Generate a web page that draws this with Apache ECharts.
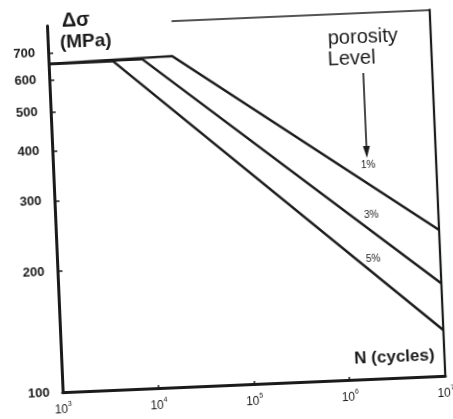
<!DOCTYPE html>
<html>
<head>
<meta charset="utf-8">
<script src="https://cdn.jsdelivr.net/npm/echarts@6/dist/echarts.min.js"></script>
<style>
  html, body { margin: 0; padding: 0; background: #fff; overflow: hidden; }
  /* the scanned figure is tilted a little, so the whole chart is tilted too */
  #chart { width: 453px; height: 419px; transform: rotate(-2.45deg); transform-origin: 50% 50%; }
</style>
</head>
<body>
<div id="chart"></div>
<script>
// stress range (MPa) vs cycles, one line per porosity level
const porosityLevels = ['1%', '3%', '5%']
const curve1 = [[1e3, 658], [1.95e4, 668], [1e7, 231]]
const curve3 = [[1e3, 658], [9.5e3, 661], [1e7, 170]]
const curve5 = [[1e3, 658], [4.7e3, 658], [1e7, 130]]
const yTicks = [100, 200, 300, 400, 500, 600, 700]
const xMin = 1e3
const xMax = 1e7
const yMin = 100
const yMax = 818

const ink = '#1b1b1b'
const font = 'Liberation Sans'

const chart = echarts.init(document.getElementById('chart'))

function lineSeries(name, data) {
  return {
    name,
    type: 'line',
    data,
    symbol: 'none',
    silent: true,
    lineStyle: { color: ink, width: 2.4 },
    z: 3
  }
}

const option = {
  backgroundColor: '#fff',
  animation: false,
  grid: { left: 55, right: 15, top: 18.5, bottom: 34 },
  xAxis: {
    type: 'log',
    min: xMin,
    max: xMax,
    axisLine: { show: true, lineStyle: { color: ink, width: 3 } },
    axisTick: { show: true, inside: true, length: 3, lineStyle: { color: ink, width: 1.5 } },
    splitLine: { show: false },
    axisLabel: {
      margin: 9,
      formatter: (v) => '{b|10}{s|' + Math.round(Math.log10(v)) + '}',
      rich: {
        b: { fontFamily: font, fontSize: 12, color: ink },
        s: { fontFamily: font, fontSize: 7, color: ink, padding: [0, 0, 10, 0] }
      }
    }
  },
  yAxis: [
    {
      type: 'log',
      min: yMin,
      max: yMax,
      axisLine: { show: true, lineStyle: { color: ink, width: 3 } },
      axisTick: { show: true, inside: true, length: 5, customValues: yTicks.slice(1), lineStyle: { color: ink, width: 1.5 } },
      splitLine: { show: false },
      axisLabel: {
        margin: 13,
        customValues: yTicks,
        fontFamily: font,
        fontSize: 13,
        fontWeight: 'bold',
        color: ink
      }
    },
    {
      type: 'log',
      min: yMin,
      max: yMax,
      position: 'right',
      axisLine: { show: true, lineStyle: { color: ink, width: 2.2 } },
      axisTick: { show: false },
      axisLabel: { show: false },
      splitLine: { show: false }
    }
  ],
  series: [
    Object.assign(lineSeries(porosityLevels[0], curve1), {
      // partial top border of the frame
      markLine: {
        silent: true,
        symbol: 'none',
        label: { show: false },
        lineStyle: { color: ink, width: 1.6, type: 'solid' },
        data: [[{ coord: [2e4, yMax] }, { coord: [xMax, yMax] }]]
      }
    }),
    lineSeries(porosityLevels[1], curve3),
    lineSeries(porosityLevels[2], curve5)
  ],
  graphic: [
    { type: 'text', x: 84, y: 14, style: { text: 'Δσ', font: 'bold 20px ' + font, fill: ink, align: 'center', verticalAlign: 'middle' } },
    { type: 'text', x: 93, y: 36, style: { text: '(MPa)', font: 'bold 19px ' + font, fill: ink, align: 'center', verticalAlign: 'middle' } },
    { type: 'text', x: 370, y: 43, style: { text: 'porosity', font: '20px ' + font, fill: ink, align: 'center', verticalAlign: 'middle' } },
    { type: 'text', x: 358, y: 64, style: { text: 'Level', font: '20px ' + font, fill: ink, align: 'center', verticalAlign: 'middle' } },
    { type: 'line', shape: { x1: 369, y1: 79, x2: 369, y2: 158 }, style: { stroke: ink, lineWidth: 1.6 } },
    { type: 'polygon', shape: { points: [[365.5, 152], [372.5, 152], [369, 164]] }, style: { fill: ink } },
    { type: 'text', x: 370, y: 171, style: { text: porosityLevels[0], font: '10px ' + font, fill: ink, align: 'center', verticalAlign: 'middle' } },
    { type: 'text', x: 371, y: 221, style: { text: porosityLevels[1], font: '10px ' + font, fill: ink, align: 'center', verticalAlign: 'middle' } },
    { type: 'text', x: 371, y: 265, style: { text: porosityLevels[2], font: '10px ' + font, fill: ink, align: 'center', verticalAlign: 'middle' } },
    { type: 'text', x: 388, y: 364, style: { text: 'N (cycles)', font: 'bold 17px ' + font, fill: ink, align: 'center', verticalAlign: 'middle' } }
  ]
}

chart.setOption(option)
</script>
</body>
</html>
